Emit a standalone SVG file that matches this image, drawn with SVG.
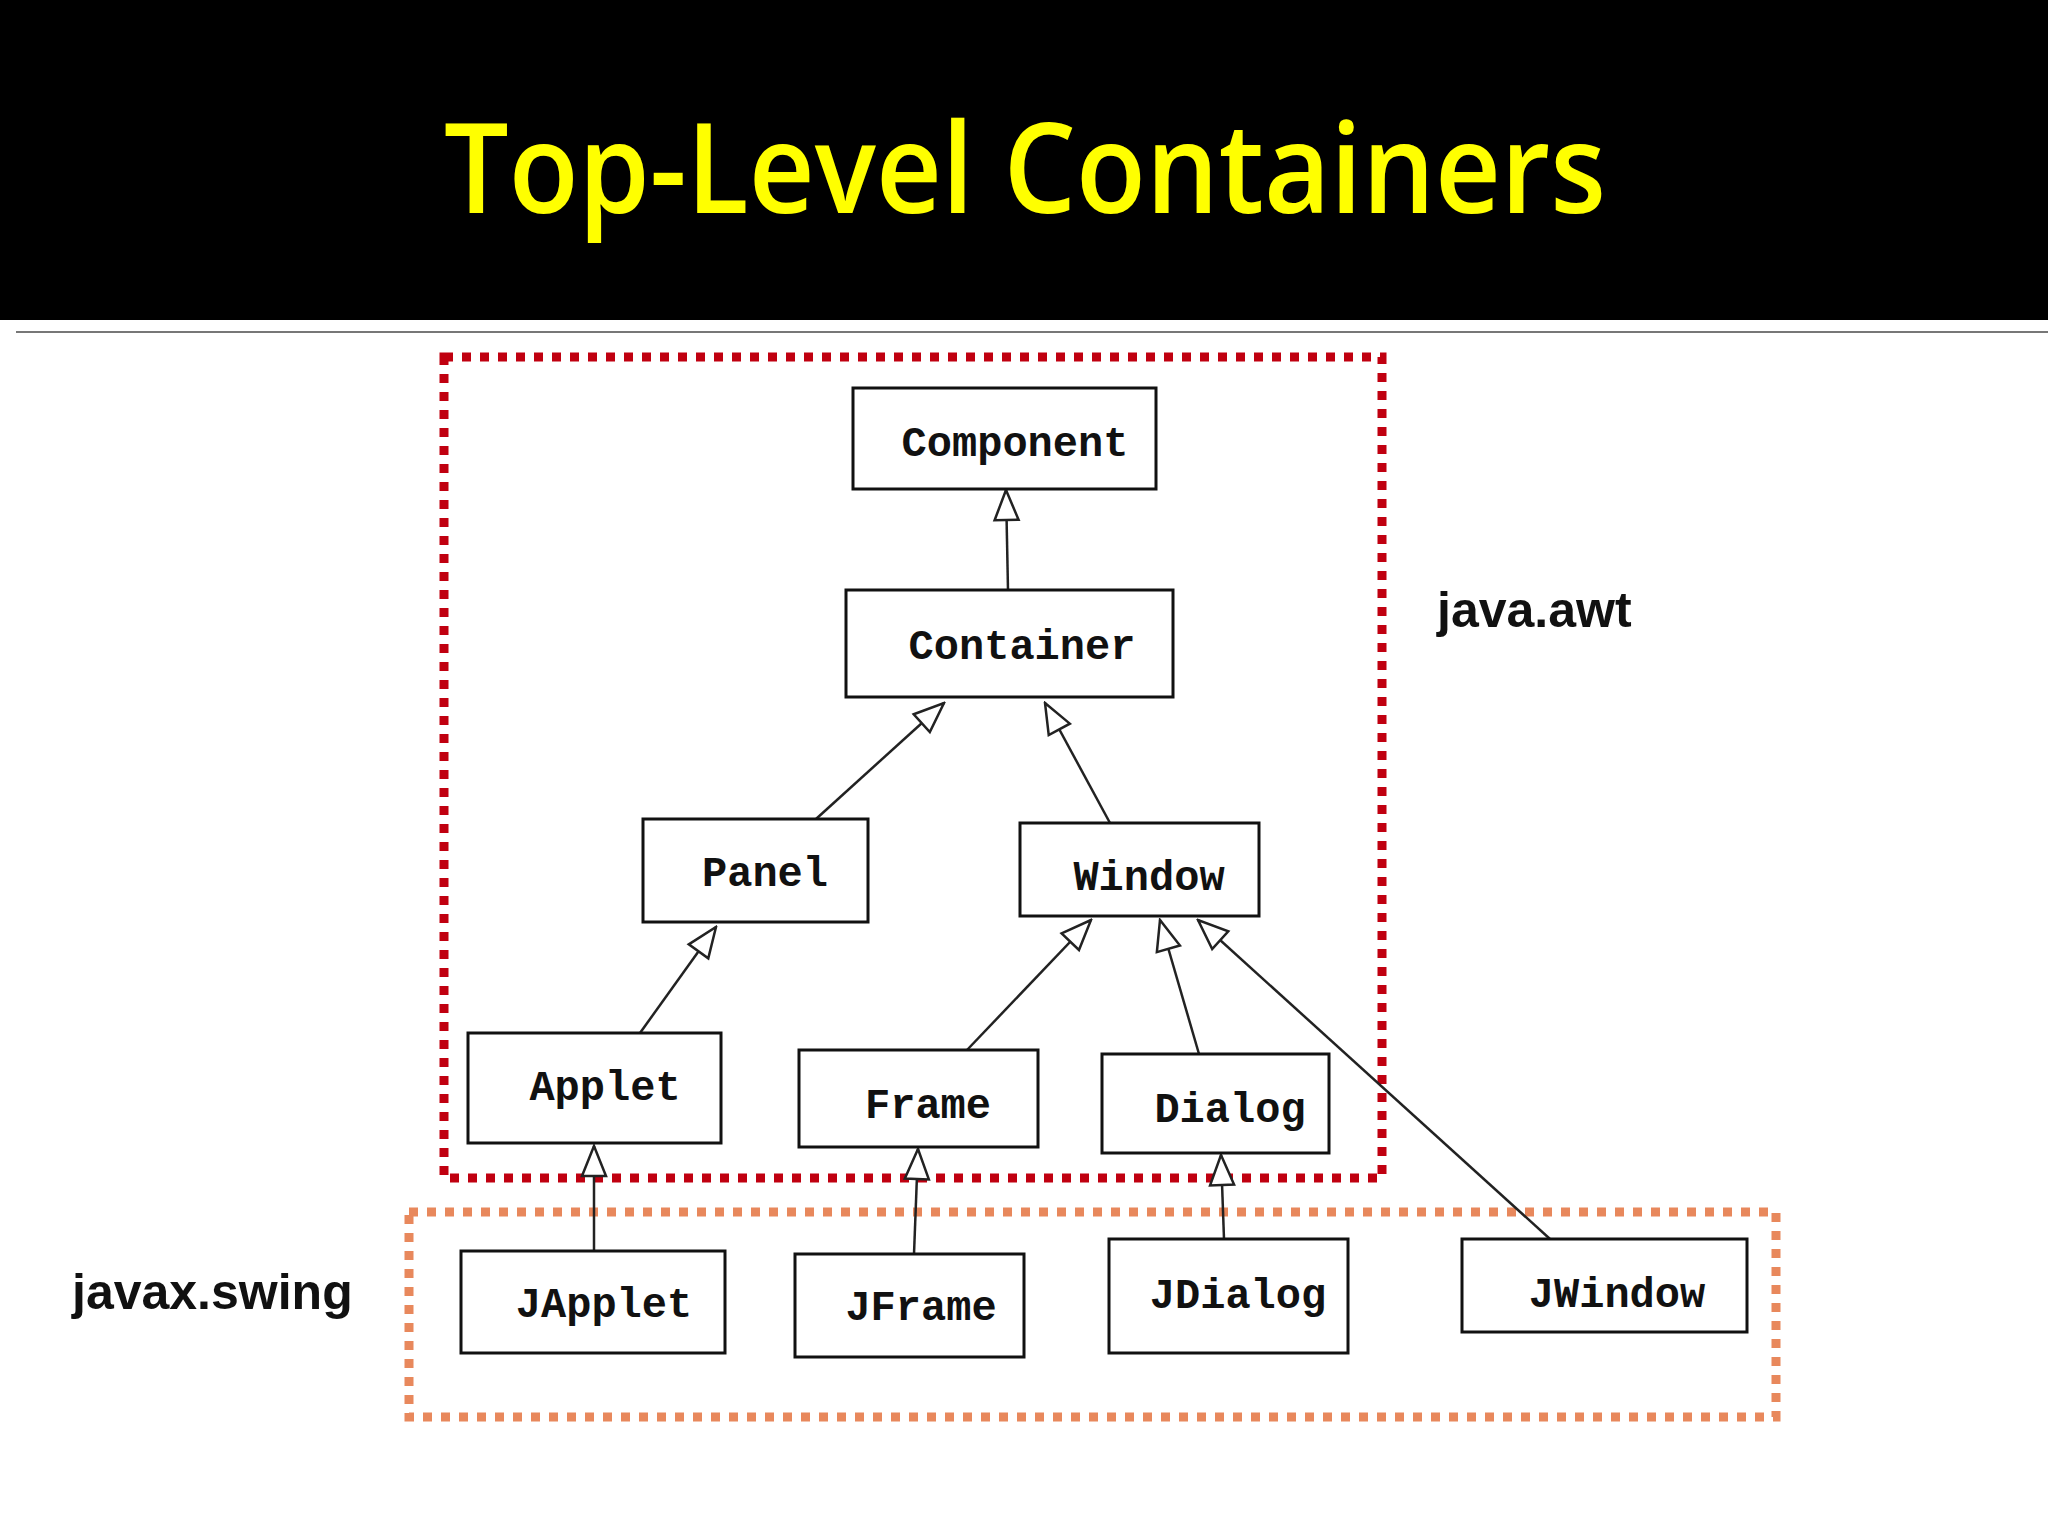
<svg xmlns="http://www.w3.org/2000/svg" width="2048" height="1536" viewBox="0 0 2048 1536">
<style>
.box{fill:#fff;stroke:#111;stroke-width:3}
.lbl{font-family:"Liberation Mono",monospace;font-weight:bold;font-size:42px;fill:#111;text-anchor:middle}
.edge{stroke:#222;stroke-width:2.5;fill:none;marker-end:url(#tri)}
.pkg{font-family:"Liberation Sans",Arial,sans-serif;font-weight:bold;font-size:50px;fill:#111}
</style>
<defs>
<marker id="tri" markerUnits="userSpaceOnUse" markerWidth="34" markerHeight="30" viewBox="0 0 34 30" refX="32" refY="15" orient="auto">
<path d="M2,3 L32,15 L2,27 Z" fill="#fff" stroke="#222" stroke-width="2.5"/>
</marker>
</defs>
<rect width="2048" height="1536" fill="#fff"/>
<rect width="2048" height="320" fill="#000"/>
<line x1="16" y1="332" x2="2048" y2="332" stroke="#777" stroke-width="2"/>
<text x="1025" y="213" font-family="'Open Sans',sans-serif" font-weight="600" font-size="125" fill="#ffff00" text-anchor="middle" textLength="1162" lengthAdjust="spacingAndGlyphs">Top-Level Containers</text>
<rect x="444" y="357" width="938" height="821" fill="none" stroke="#c00010" stroke-width="9" stroke-dasharray="9 9"/>
<rect x="409" y="1212" width="1367" height="205" fill="none" stroke="#e8885c" stroke-width="9" stroke-dasharray="9 9"/>
<text class="pkg" x="1437" y="627">java.awt</text>
<text class="pkg" x="72" y="1309">javax.swing</text>
<g id="connectors">
<line class="edge" x1="1008" y1="590" x2="1006" y2="490"/>
<line class="edge" x1="816" y1="819" x2="944" y2="703"/>
<line class="edge" x1="1110" y1="823" x2="1045" y2="703"/>
<line class="edge" x1="640" y1="1033" x2="716" y2="927"/>
<line class="edge" x1="967" y1="1050" x2="1091" y2="920"/>
<line class="edge" x1="1199" y1="1054" x2="1160" y2="920"/>
<line class="edge" x1="1550" y1="1239" x2="1198" y2="920"/>
<line class="edge" x1="594" y1="1251" x2="594" y2="1146"/>
<line class="edge" x1="914" y1="1254" x2="918" y2="1149"/>
<line class="edge" x1="1224" y1="1239" x2="1221" y2="1155"/>
</g>
<g id="Component"><rect class="box" x="853" y="388" width="303" height="101"/><text class="lbl" x="1015" y="456">Component</text></g>
<g id="Container"><rect class="box" x="846" y="590" width="327" height="107"/><text class="lbl" x="1022" y="659">Container</text></g>
<g id="Panel"><rect class="box" x="643" y="819" width="225" height="103"/><text class="lbl" x="765" y="886">Panel</text></g>
<g id="Window"><rect class="box" x="1020" y="823" width="239" height="93"/><text class="lbl" x="1149" y="890">Window</text></g>
<g id="Applet"><rect class="box" x="468" y="1033" width="253" height="110"/><text class="lbl" x="605" y="1100">Applet</text></g>
<g id="Frame"><rect class="box" x="799" y="1050" width="239" height="97"/><text class="lbl" x="928" y="1118">Frame</text></g>
<g id="Dialog"><rect class="box" x="1102" y="1054" width="227" height="99"/><text class="lbl" x="1230" y="1122">Dialog</text></g>
<g id="JApplet"><rect class="box" x="461" y="1251" width="264" height="102"/><text class="lbl" x="604" y="1317">JApplet</text></g>
<g id="JFrame"><rect class="box" x="795" y="1254" width="229" height="103"/><text class="lbl" x="921" y="1320">JFrame</text></g>
<g id="JDialog"><rect class="box" x="1109" y="1239" width="239" height="114"/><text class="lbl" x="1238" y="1308">JDialog</text></g>
<g id="JWindow"><rect class="box" x="1462" y="1239" width="285" height="93"/><text class="lbl" x="1617" y="1307">JWindow</text></g>
</svg>
